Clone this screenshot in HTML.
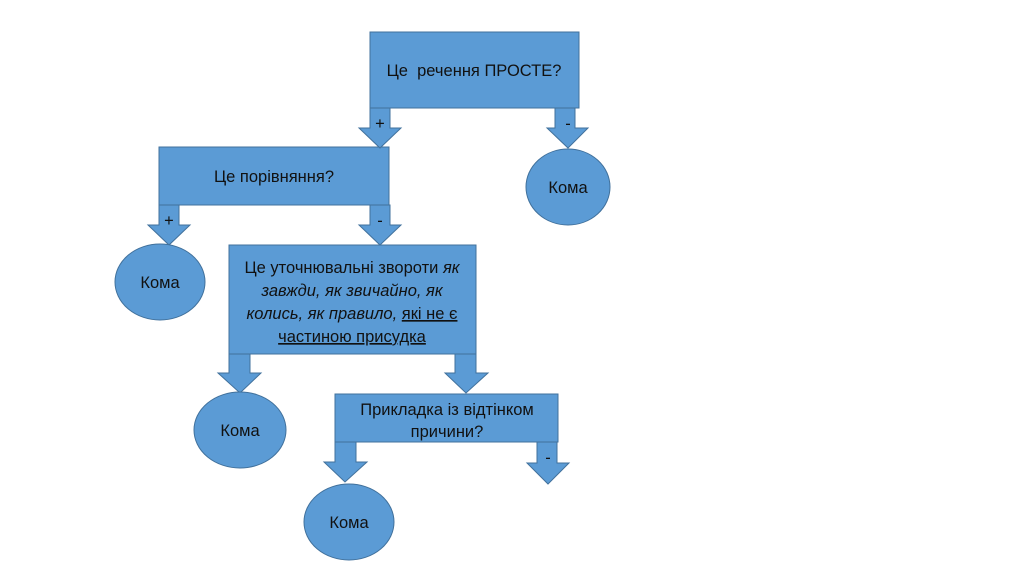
<!DOCTYPE html>
<html><head><meta charset="utf-8"><style>
html,body{margin:0;padding:0;background:#fff;}
svg{display:block;}
text{font-family:"Liberation Sans","DejaVu Sans",sans-serif;font-size:16.5px;fill:#111;}
</style></head><body>
<svg width="1024" height="574" viewBox="0 0 1024 574">
<g fill="#5b9bd5" stroke="#41719c" stroke-width="1">
<rect x="370" y="32" width="209" height="76"/>
<rect x="159" y="147" width="230" height="58"/>
<rect x="229" y="245" width="247" height="109"/>
<rect x="335" y="394" width="223" height="48"/>
<polygon points="370,108 390,108 390,128 401,128 380,148 359,128 370,128"/>
<polygon points="555,108 575,108 575,128 588,128 568,148 547,128 555,128"/>
<polygon points="159,205 179,205 179,225 190,225 169,245 148,225 159,225"/>
<polygon points="370,205 390,205 390,225 401,225 380,245 359,225 370,225"/>
<polygon points="229,354 250,354 250,373 261,373 240,393 218,373 229,373"/>
<polygon points="455,354 476,354 476,373 488,373 466,393 445,373 455,373"/>
<polygon points="335,442 356,442 356,462 367,462 345,482 324,462 335,462"/>
<polygon points="537,442 557,442 557,463 569,463 548,484 527,463 537,463"/>
<ellipse cx="568" cy="187" rx="42" ry="38"/>
<ellipse cx="160" cy="282" rx="45" ry="38"/>
<ellipse cx="240" cy="430" rx="46" ry="38"/>
<ellipse cx="349" cy="522" rx="45" ry="38"/>
</g>
<text x="474" y="76" text-anchor="middle" xml:space="preserve">Це  речення ПРОСТЕ?</text>
<text x="274" y="182" text-anchor="middle">Це порівняння?</text>
<text x="380" y="129" text-anchor="middle" font-size="13">+</text>
<text x="568" y="129" text-anchor="middle" font-size="13">-</text>
<text x="169" y="226" text-anchor="middle" font-size="13">+</text>
<text x="380" y="226" text-anchor="middle" font-size="13">-</text>
<text x="548" y="463" text-anchor="middle" font-size="13">-</text>
<text x="568" y="193" text-anchor="middle">Кома</text>
<text x="160" y="288" text-anchor="middle">Кома</text>
<text x="240" y="436" text-anchor="middle">Кома</text>
<text x="349" y="528" text-anchor="middle">Кома</text>
<text x="352" y="273" text-anchor="middle">Це уточнювальні звороти <tspan font-style="italic">як</tspan></text>
<text x="352" y="296" text-anchor="middle" font-style="italic">завжди, як звичайно, як</text>
<text x="352" y="319" text-anchor="middle"><tspan font-style="italic">колись, як правило, </tspan><tspan text-decoration="underline">які не є</tspan></text>
<text x="352" y="342" text-anchor="middle" text-decoration="underline">частиною присудка</text>
<text x="447" y="415" text-anchor="middle">Прикладка із відтінком</text>
<text x="447" y="437" text-anchor="middle">причини?</text>
</svg>
</body></html>
